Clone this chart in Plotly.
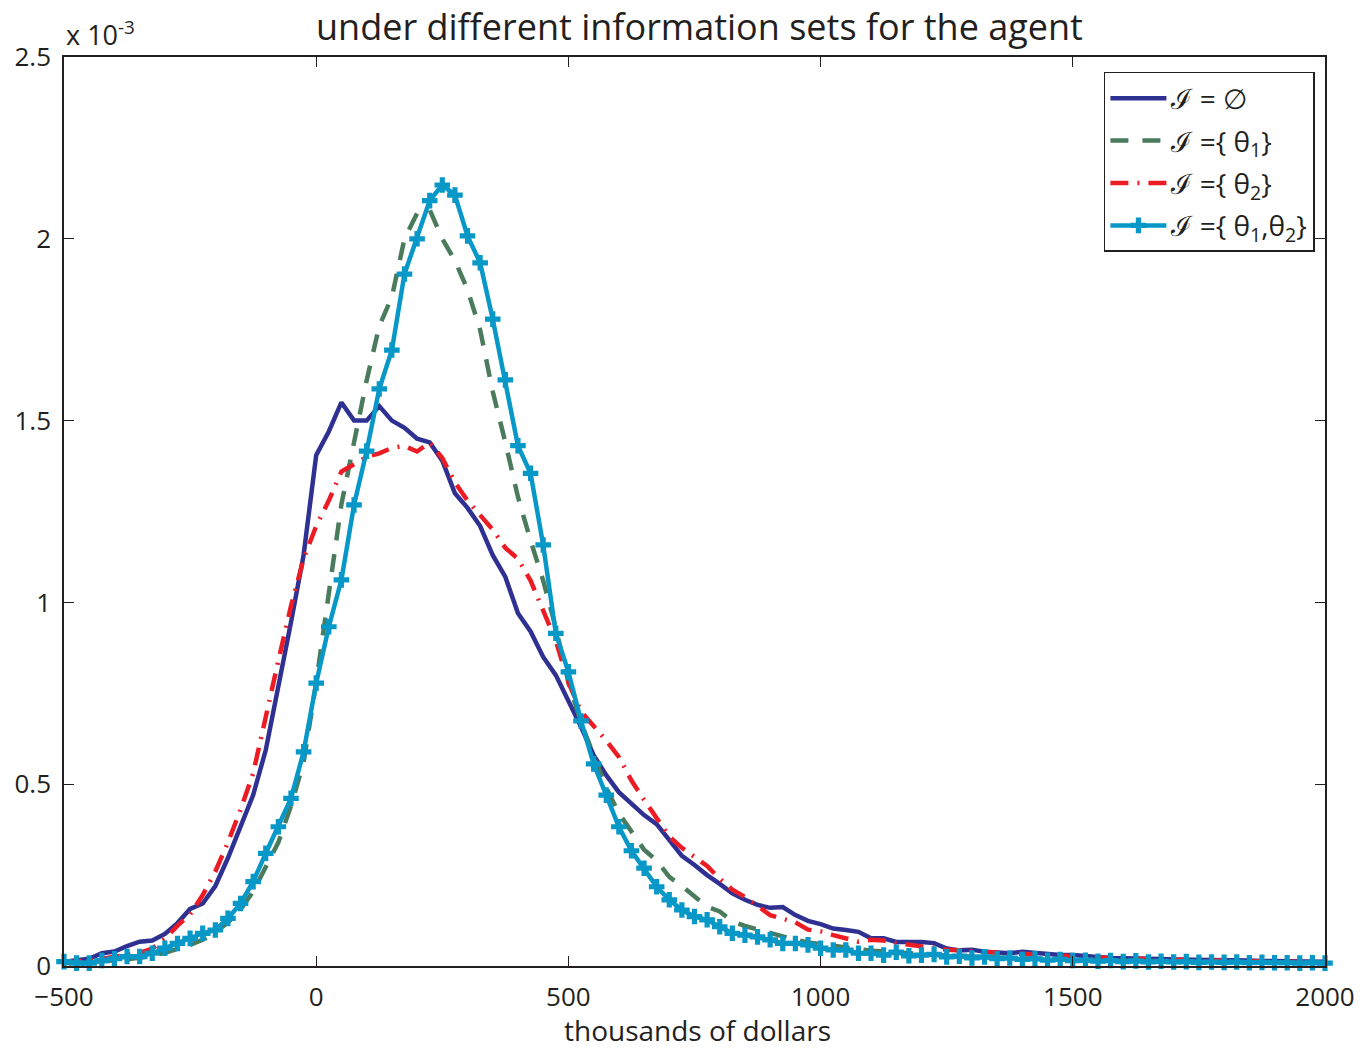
import plotly.graph_objects as go

# Wealth grid, thousands of dollars (step 25)
wealth = list(range(-500, 2001, 25))

# Densities in units of 1e-3, one array per information set
dens_empty = [
    0.012, 0.015, 0.020, 0.035, 0.040, 0.055, 0.067, 0.070, 0.088, 0.118, 0.157,
    0.172, 0.220, 0.297, 0.380, 0.470, 0.594, 0.767, 0.945, 1.130, 1.405,
    1.470, 1.550, 1.500, 1.500, 1.540, 1.500, 1.480, 1.450, 1.440, 1.390,
    1.300, 1.260, 1.210, 1.130, 1.070, 0.970, 0.920, 0.850, 0.800, 0.730,
    0.658, 0.580, 0.525, 0.478, 0.448, 0.415, 0.390, 0.347, 0.303, 0.278,
    0.250, 0.226, 0.200, 0.182, 0.168, 0.160, 0.162, 0.140, 0.124, 0.115,
    0.103, 0.099, 0.094, 0.076, 0.076, 0.066, 0.067, 0.066, 0.063, 0.048,
    0.043, 0.045, 0.039, 0.037, 0.035, 0.039, 0.036, 0.032, 0.030, 0.030,
    0.026, 0.025, 0.022, 0.022, 0.020, 0.020, 0.019, 0.018, 0.018, 0.017,
    0.016, 0.016, 0.015, 0.015, 0.014, 0.014, 0.013, 0.013, 0.012, 0.012,
]
dens_theta1 = [
    0.008, 0.009, 0.010, 0.012, 0.015, 0.018, 0.022, 0.028, 0.036, 0.046, 0.058,
    0.072, 0.092, 0.120, 0.155, 0.205, 0.270, 0.340, 0.440, 0.560, 0.780,
    1.030, 1.270, 1.440, 1.610, 1.760, 1.840, 2.000, 2.070, 2.080, 2.000,
    1.940, 1.860, 1.750, 1.580, 1.440, 1.290, 1.170, 1.060, 0.930, 0.780,
    0.670, 0.580, 0.490, 0.420, 0.370, 0.320, 0.290, 0.245, 0.220, 0.190,
    0.163, 0.150, 0.122, 0.110, 0.100, 0.090, 0.080, 0.072, 0.065, 0.060,
    0.055, 0.050, 0.046, 0.042, 0.040, 0.037, 0.035, 0.033, 0.031, 0.029,
    0.027, 0.026, 0.024, 0.023, 0.022, 0.021, 0.020, 0.019, 0.018, 0.017,
    0.016, 0.016, 0.015, 0.015, 0.014, 0.014, 0.013, 0.013, 0.012, 0.012,
    0.011, 0.011, 0.011, 0.010, 0.010, 0.010, 0.009, 0.009, 0.009, 0.008,
]
dens_theta2 = [
    0.010, 0.012, 0.015, 0.020, 0.025, 0.030, 0.036, 0.048, 0.075, 0.111, 0.142,
    0.195, 0.260, 0.340, 0.430, 0.530, 0.690, 0.840, 0.990, 1.120, 1.210,
    1.280, 1.360, 1.380, 1.400, 1.410, 1.425, 1.430, 1.415, 1.440, 1.397,
    1.330, 1.280, 1.240, 1.200, 1.150, 1.120, 1.060, 0.980, 0.895, 0.780,
    0.700, 0.660, 0.620, 0.575, 0.510, 0.457, 0.405, 0.356, 0.325, 0.300,
    0.275, 0.240, 0.210, 0.190, 0.165, 0.140, 0.130, 0.120, 0.100, 0.095,
    0.085, 0.075, 0.067, 0.072, 0.070, 0.063, 0.058, 0.055, 0.050, 0.045,
    0.043, 0.040, 0.038, 0.037, 0.035, 0.033, 0.032, 0.030, 0.028, 0.026,
    0.025, 0.023, 0.022, 0.021, 0.020, 0.019, 0.018, 0.017, 0.016, 0.015,
    0.015, 0.014, 0.014, 0.013, 0.013, 0.012, 0.012, 0.011, 0.011, 0.010,
]
dens_both = [
    0.012, 0.008, 0.008, 0.015, 0.020, 0.026, 0.026, 0.035, 0.049, 0.062, 0.076,
    0.090, 0.099, 0.131, 0.172, 0.232, 0.310, 0.383, 0.461, 0.589, 0.778,
    0.933, 1.062, 1.268, 1.416, 1.587, 1.694, 1.903, 2.000, 2.105, 2.148,
    2.120, 2.008, 1.934, 1.779, 1.612, 1.431, 1.355, 1.158, 0.915, 0.809,
    0.674, 0.556, 0.470, 0.383, 0.317, 0.269, 0.218, 0.182, 0.154, 0.136,
    0.127, 0.108, 0.090, 0.085, 0.080, 0.072, 0.062, 0.062, 0.058, 0.049,
    0.044, 0.044, 0.035, 0.035, 0.030, 0.038, 0.028, 0.030, 0.032, 0.025,
    0.027, 0.022, 0.025, 0.020, 0.022, 0.018, 0.020, 0.016, 0.018, 0.015,
    0.016, 0.013, 0.015, 0.012, 0.014, 0.011, 0.013, 0.011, 0.012, 0.010,
    0.011, 0.010, 0.011, 0.009, 0.010, 0.009, 0.009, 0.008, 0.009, 0.008,
]

legend_names = [
    "ℐ = ∅",
    "ℐ ={ θ<sub>1</sub>}",
    "ℐ ={ θ<sub>2</sub>}",
    "ℐ ={ θ<sub>1</sub>,θ<sub>2</sub>}",
]

x_ticks = [-500, 0, 500, 1000, 1500, 2000]
y_ticks = [0, 0.5, 1, 1.5, 2, 2.5]
y_ticktext = ["0", "0.5", "1", "1.5", "2", "2.5"]

FONT = "Open Sans"
INK = "#231F20"

fig = go.Figure()
fig.add_trace(go.Scatter(
    x=wealth, y=dens_empty, name=legend_names[0], mode="lines",
    legendgroup="g0",
    line=dict(color="#2E3192", width=4.5),
))
fig.add_trace(go.Scatter(
    x=wealth, y=dens_theta1, name=legend_names[1], mode="lines",
    legendgroup="g1",
    line=dict(color="#4A7B5C", width=4.5, dash="18px,14px"),
))
fig.add_trace(go.Scatter(
    x=wealth, y=dens_theta2, name=legend_names[2], mode="lines",
    legendgroup="g2",
    line=dict(color="#ED1C24", width=4.5, dash="18px,9px,2px,9px"),
))
fig.add_trace(go.Scatter(
    x=wealth, y=dens_both, name=legend_names[3], mode="lines+markers",
    legendgroup="g3",
    line=dict(color="#0898C8", width=4.5),
    marker=dict(symbol="cross", size=13, color="#0898C8", line=dict(width=0)),
    cliponaxis=False,
))

axis_common = dict(
    showgrid=False, zeroline=False, showline=True, linecolor=INK, linewidth=1.5,
    mirror="ticks", ticks="inside", ticklen=10, tickwidth=1.2, tickcolor=INK,
    tickfont=dict(family=FONT, size=26, color=INK),
)

fig.update_xaxes(range=[-500, 2000], tickvals=x_ticks, ticklabelstandoff=7,
                 **axis_common)
fig.update_yaxes(range=[0, 2.5], tickvals=y_ticks, ticktext=y_ticktext,
                 ticklabelstandoff=6, **axis_common)

fig.update_layout(
    width=1367, height=1048,
    margin=dict(l=64, r=37, t=57, b=82),
    plot_bgcolor="white", paper_bgcolor="white",
    font=dict(family=FONT, color=INK),
    showlegend=True,
    legend=dict(
        x=0.992, y=0.9835, xanchor="right", yanchor="top",
        bordercolor=INK, borderwidth=1.5, bgcolor="white",
        font=dict(family=FONT, size=28, color=INK),
        itemwidth=56, tracegroupgap=3,
    ),
    annotations=[
        dict(text="under different information sets for the agent",
             xref="paper", yref="paper", x=0.504, y=1.0627,
             xanchor="center", yanchor="top", showarrow=False,
             font=dict(family=FONT, size=36, color=INK)),
        dict(text="x 10<sup>-3</sup>",
             xref="paper", yref="paper", x=0.0, y=1.026,
             xanchor="left", yanchor="middle", showarrow=False,
             font=dict(family=FONT, size=27, color=INK)),
        dict(text="thousands of dollars",
             xref="paper", yref="paper", x=0.502, y=-0.0704,
             xanchor="center", yanchor="middle", showarrow=False,
             font=dict(family=FONT, size=28, color=INK)),
    ],
)

fig.write_html("out.html")
